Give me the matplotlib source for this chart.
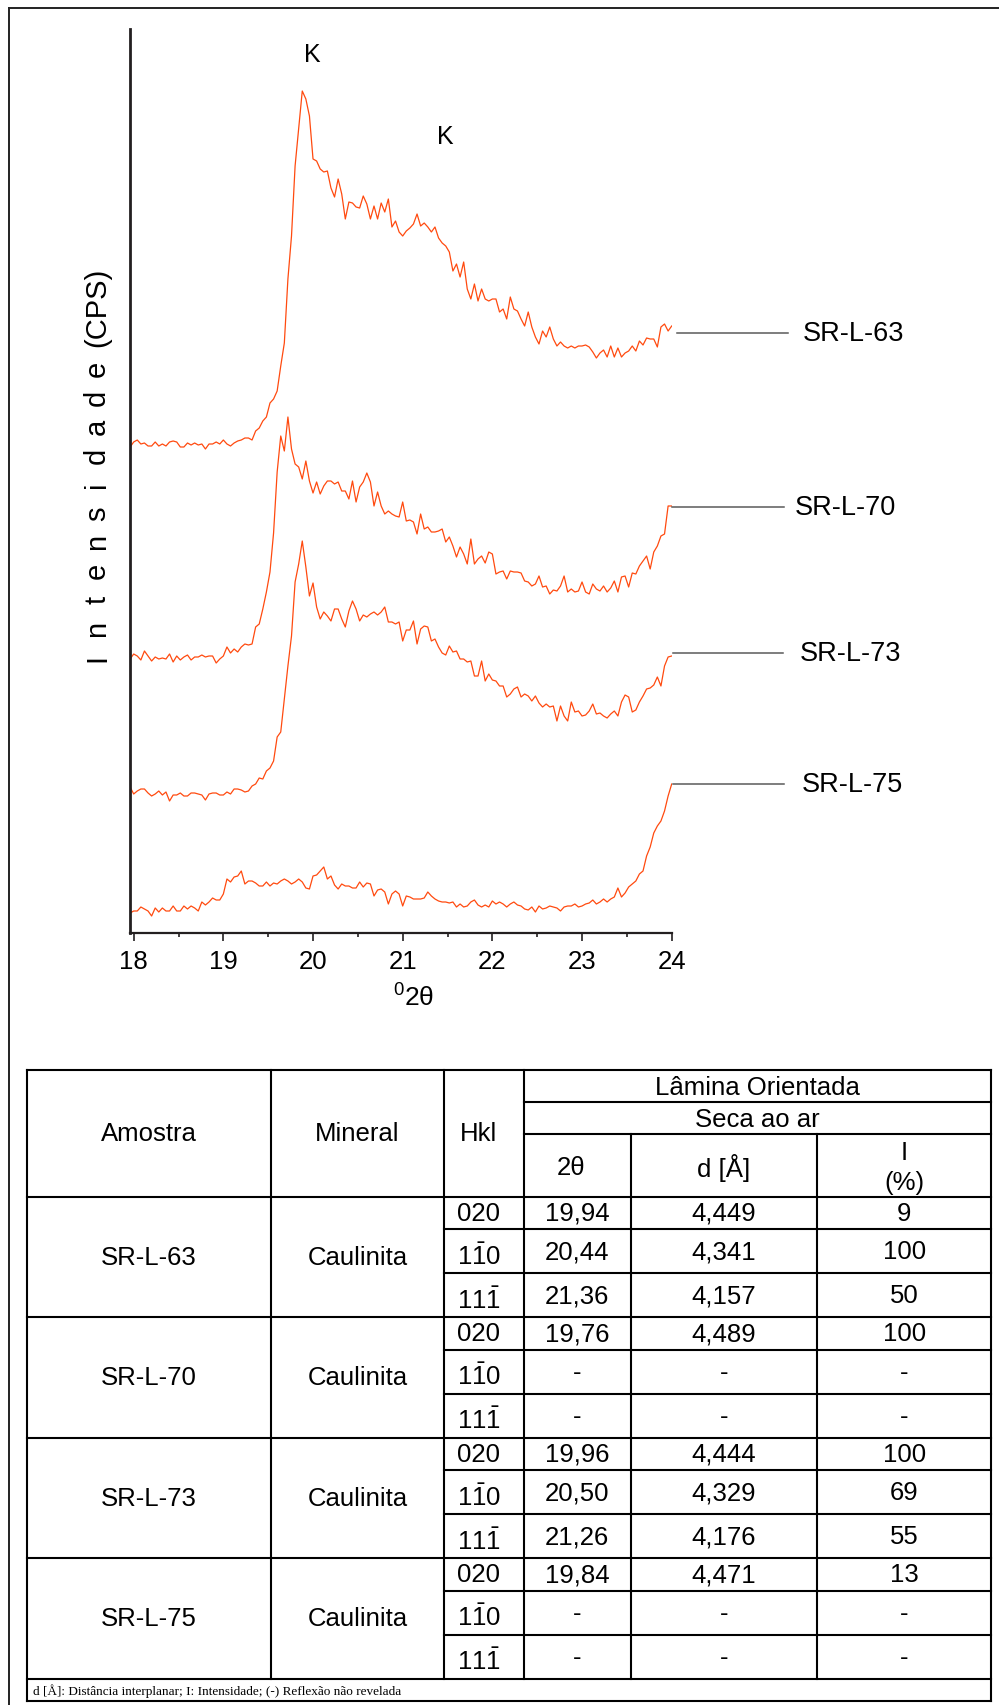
import numpy as np
import matplotlib
matplotlib.use("Agg")
import matplotlib.pyplot as plt
from matplotlib.ticker import MultipleLocator

plt.rcParams['font.family'] = ['Liberation Sans', 'DejaVu Sans']
plt.rcParams['mathtext.fontset'] = 'custom'
plt.rcParams['mathtext.rm'] = 'Liberation Sans'
plt.rcParams['mathtext.it'] = 'Liberation Sans:italic'
plt.rcParams['mathtext.bf'] = 'Liberation Sans:bold'

# ---------------- data ----------------
scan_start = 17.96
scan_step = 0.04
n_points = 152
two_theta = np.round(scan_start + scan_step * np.arange(n_points), 2)

# intensities (arbitrary units, already stacked with vertical offsets)
int_sr_l_63 = [
    486, 491, 493, 489, 490, 487, 487, 491, 487, 489,
    487, 491, 492, 491, 486, 486, 490, 488, 490, 488,
    489, 484, 489, 489, 491, 489, 493, 489, 487, 490,
    492, 493, 495, 495, 493, 502, 505, 512, 516, 530,
    534, 542, 567, 590, 654, 697, 767, 804, 842, 834,
    817, 774, 772, 764, 761, 762, 745, 736, 754, 739,
    714, 731, 730, 726, 725, 737, 729, 714, 727, 714,
    730, 721, 734, 706, 712, 701, 697, 702, 705, 709,
    719, 707, 710, 706, 701, 706, 695, 690, 687, 681,
    662, 669, 656, 671, 644, 634, 649, 632, 644, 634,
    632, 634, 634, 621, 624, 614, 636, 624, 622, 614,
    607, 621, 606, 596, 589, 602, 596, 606, 594, 587,
    591, 587, 585, 587, 585, 587, 587, 588, 586, 581,
    575, 580, 583, 576, 587, 576, 585, 576, 580, 582,
    587, 582, 592, 588, 595, 594, 594, 586, 606, 609,
    602, 607]

int_sr_l_70 = [
    274, 279, 277, 273, 282, 277, 272, 276, 274, 275,
    274, 279, 271, 277, 273, 276, 278, 273, 276, 276,
    278, 276, 277, 277, 270, 274, 277, 286, 280, 284,
    281, 286, 289, 288, 289, 306, 309, 324, 341, 361,
    400, 461, 497, 482, 516, 484, 469, 466, 454, 472,
    452, 440, 451, 439, 447, 452, 452, 449, 451, 442,
    442, 434, 452, 431, 446, 451, 460, 451, 427, 441,
    427, 419, 422, 419, 417, 416, 431, 412, 413, 411,
    399, 419, 404, 406, 401, 401, 402, 404, 391, 396,
    387, 376, 386, 379, 369, 394, 369, 374, 377, 370,
    381, 379, 359, 361, 362, 354, 362, 361, 361, 360,
    352, 351, 347, 349, 357, 346, 347, 339, 343, 342,
    347, 357, 341, 344, 341, 342, 351, 341, 339, 349,
    344, 342, 347, 341, 345, 352, 341, 356, 357, 346,
    360, 359, 367, 372, 377, 364, 381, 387, 397, 399,
    427, 427]

int_sr_l_73 = [
    146, 139, 142, 144, 144, 140, 137, 139, 142, 138,
    141, 132, 138, 138, 140, 137, 137, 140, 140, 139,
    138, 133, 139, 140, 140, 138, 138, 141, 139, 144,
    144, 143, 141, 142, 147, 149, 155, 154, 162, 165,
    172, 196, 201, 234, 267, 297, 351, 369, 392, 366,
    337, 350, 326, 314, 321, 317, 312, 324, 324, 314,
    306, 322, 332, 324, 312, 318, 316, 319, 321, 318,
    321, 326, 311, 311, 309, 311, 292, 303, 303, 312,
    289, 304, 307, 306, 292, 294, 286, 280, 278, 287,
    281, 282, 274, 274, 271, 272, 257, 257, 272, 252,
    259, 253, 252, 247, 247, 236, 239, 244, 246, 236,
    239, 237, 232, 237, 230, 226, 229, 226, 227, 212,
    227, 217, 212, 231, 221, 222, 217, 218, 222, 229,
    219, 220, 217, 215, 219, 222, 217, 231, 238, 236,
    221, 223, 231, 237, 244, 245, 248, 256, 247, 267,
    276, 277]

int_sr_l_75 = [
    20, 22, 22, 26, 24, 22, 17, 25, 21, 25,
    22, 22, 27, 22, 22, 27, 24, 27, 25, 22,
    31, 28, 31, 35, 33, 33, 39, 54, 51, 56,
    57, 62, 49, 52, 52, 50, 47, 47, 51, 47,
    50, 49, 52, 54, 52, 49, 51, 54, 51, 45,
    44, 57, 58, 62, 66, 54, 57, 48, 44, 49,
    47, 47, 45, 45, 51, 46, 50, 49, 37, 43,
    44, 41, 29, 39, 42, 39, 27, 37, 36, 34,
    34, 34, 35, 41, 37, 34, 32, 31, 31, 30,
    31, 26, 29, 26, 27, 31, 33, 28, 26, 28,
    26, 32, 29, 31, 29, 26, 29, 31, 28, 27,
    24, 23, 26, 21, 27, 24, 25, 27, 26, 25,
    22, 26, 27, 27, 29, 26, 27, 29, 30, 33,
    29, 31, 34, 31, 34, 36, 45, 36, 40, 46,
    49, 52, 59, 62, 77, 86, 100, 107, 112, 122,
    137, 149]

sample_names = ["SR-L-63", "SR-L-70", "SR-L-73", "SR-L-75"]
label_levels = [600, 426, 280, 149]
peak_labels = ["K", "K"]
peak_label_x = [19.99, 21.48]
peak_label_y = [879, 797]
x_ticks = [18, 19, 20, 21, 22, 23, 24]

# table contents
col_headers = ["Amostra", "Mineral", "Hkl"]
group_header = "Lâmina Orientada"
sub_header = "Seca ao ar"
meas_headers = ["2θ", "d [Å]", "I\n(%)"]
minerals = ["Caulinita", "Caulinita", "Caulinita", "Caulinita"]
hkl_labels = ["020", r"$\mathrm{1\bar{1}0}$", r"$\mathrm{11\bar{1}}$"]
theta_vals = [["19,94", "20,44", "21,36"],
              ["19,76", "-", "-"],
              ["19,96", "20,50", "21,26"],
              ["19,84", "-", "-"]]
d_vals = [["4,449", "4,341", "4,157"],
          ["4,489", "-", "-"],
          ["4,444", "4,329", "4,176"],
          ["4,471", "-", "-"]]
i_vals = [["9", "100", "50"],
          ["100", "-", "-"],
          ["100", "69", "55"],
          ["13", "-", "-"]]
footnote = "d [Å]: Distância interplanar; I: Intensidade; (-) Reflexão não revelada"

# ---------------- figure ----------------
W, H = 999, 1706
fig = plt.figure(figsize=(W / 100, H / 100), dpi=100)

x_left_px, x_right_px = 130.1, 671.7
y_top_px, y_bot_px = 30, 934
ax = fig.add_axes([x_left_px / W, 1 - y_bot_px / H,
                   (x_right_px - x_left_px) / W, (y_bot_px - y_top_px) / H])
ax.set_xlim(17.96, 24.0)
ax.set_ylim(0, 904)

line_color = "#ff4a0f"
series = [int_sr_l_63, int_sr_l_70, int_sr_l_73, int_sr_l_75]
for ys in series:
    ax.plot(two_theta, ys, color=line_color, lw=0.9)

for s in ["top", "right"]:
    ax.spines[s].set_visible(False)
ax.spines["left"].set_linewidth(2.0)
ax.spines["left"].set_color("#231f20")
ax.spines["bottom"].set_linewidth(1.6)
ax.spines["bottom"].set_color("#231f20")
ax.set_yticks([])
ax.set_xticks(x_ticks)
ax.set_xticklabels([str(t) for t in x_ticks])
ax.xaxis.set_minor_locator(MultipleLocator(0.5))
ax.tick_params(axis="x", which="major", direction="out", length=5.5, width=1.2,
               labelsize=18.5, pad=6, color="#231f20")
ax.tick_params(axis="x", which="minor", direction="out", length=3, width=1.2,
               color="#231f20")

# connector lines and sample labels
conn_start = [24.055, 24.003, 24.014, 24.014]
conn_end = [25.293, 25.248, 25.24, 25.25]
label_x = [25.467, 25.369, 25.43, 25.447]
for name, lev, x0, x1, lx in zip(sample_names, label_levels, conn_start, conn_end, label_x):
    ax.plot([x0, x1], [lev, lev], color="#5a5a5a", lw=1.1, clip_on=False)
    ax.text(lx, lev, name, fontsize=19.5, ha="left", va="center")

for t, px, py in zip(peak_labels, peak_label_x, peak_label_y):
    ax.text(px, py, t, fontsize=18, ha="center", va="center")

# x label  "°2θ"
fig.text(414 / W, 1 - 998 / H, r"$^{0}$2θ", fontsize=19, ha="center", va="center")

# y label with letter spacing
ylabel_word = "Intensidade"
y0, step = 658, -28.9
for i, ch in enumerate(ylabel_word):
    fig.text(97 / W, 1 - (y0 + step * i) / H, ch, fontsize=21, rotation=90,
             ha="center", va="center")
fig.text(97 / W, 1 - 307 / H, "(CPS)", fontsize=21, rotation=90, ha="center", va="center")

# ---------------- overlay for frame + table ----------------
tax = fig.add_axes([0, 0, 1, 1], zorder=-1)
tax.set_xlim(0, W)
tax.set_ylim(H, 0)
tax.axis("off")

frame_kw = dict(color="#222222", lw=1.4, solid_capstyle="projecting")
tax.plot([9, 9], [9, H], **frame_kw)
tax.plot([9, W], [9, 9], **frame_kw)

cols = [26.8, 270.8, 444.0, 523.7, 630.7, 817.4, 991.0]
top = 1070.7
r_lam = 1102.7
r_seca = 1135.0
r_hdr = 1197.7
group_h = 120.5
sub_rows = [0, 32.4, 76.4, 120.5]
data_bottom = r_hdr + 4 * group_h
foot_bottom = 1701.7

lk = dict(color="black", lw=1.5, solid_capstyle="projecting")
tax.plot([cols[0], cols[6]], [top, top], **lk)
tax.plot([cols[3], cols[6]], [r_lam, r_lam], **lk)
tax.plot([cols[3], cols[6]], [r_seca, r_seca], **lk)
tax.plot([cols[0], cols[6]], [r_hdr, r_hdr], **lk)
for g in range(4):
    gy = r_hdr + g * group_h
    for sr in sub_rows[1:3]:
        tax.plot([cols[2], cols[6]], [gy + sr, gy + sr], **lk)
    tax.plot([cols[0], cols[6]], [gy + group_h, gy + group_h], **lk)
tax.plot([cols[0], cols[6]], [foot_bottom, foot_bottom], **lk)
tax.plot([cols[0], cols[0]], [top, foot_bottom], **lk)
tax.plot([cols[6], cols[6]], [top, foot_bottom], **lk)
for c in cols[1:4]:
    tax.plot([c, c], [top, data_bottom], **lk)
for c in cols[4:6]:
    tax.plot([c, c], [r_seca, data_bottom], **lk)

fs = 18.5
hdr_cy = (top + r_hdr) / 2
hdr_cx = [(cols[0] + cols[1]) / 2, (cols[1] + cols[2]) / 2, 478]
for cx, txt in zip(hdr_cx, col_headers):
    tax.text(cx, hdr_cy, txt, fontsize=fs, ha="center", va="center")
tax.text((cols[3] + cols[6]) / 2, (top + r_lam) / 2 + 1, group_header, fontsize=fs,
         ha="center", va="center")
tax.text((cols[3] + cols[6]) / 2, (r_lam + r_seca) / 2 + 1, sub_header, fontsize=fs,
         ha="center", va="center")
meas_cx = [571, (cols[4] + cols[5]) / 2, (cols[5] + cols[6]) / 2]
for cx, txt in zip(meas_cx, meas_headers):
    tax.text(cx, (r_seca + r_hdr) / 2 + 2, txt, fontsize=fs, ha="center", va="center",
             linespacing=1.3)

for g in range(4):
    gy = r_hdr + g * group_h
    gc = gy + group_h / 2
    tax.text((cols[0] + cols[1]) / 2, gc, sample_names[g], fontsize=fs, ha="center", va="center")
    tax.text((cols[1] + cols[2]) / 2, gc, minerals[g], fontsize=fs, ha="center", va="center")
    for r in range(3):
        cy = gy + (sub_rows[r] + sub_rows[r + 1]) / 2
        hk_off = 0 if r == 0 else 4
        tax.text(457, cy + hk_off, hkl_labels[r], fontsize=fs, ha="left", va="center")
        tax.text((cols[3] + cols[4]) / 2, cy, theta_vals[g][r], fontsize=fs, ha="center", va="center")
        tax.text((cols[4] + cols[5]) / 2, cy, d_vals[g][r], fontsize=fs, ha="center", va="center")
        tax.text((cols[5] + cols[6]) / 2, cy, i_vals[g][r], fontsize=fs, ha="center", va="center")

tax.text(33, (data_bottom + foot_bottom) / 2, footnote, fontsize=9.5, ha="left", va="center",
         family="Liberation Serif")

fig.savefig("out.png", dpi=100)
